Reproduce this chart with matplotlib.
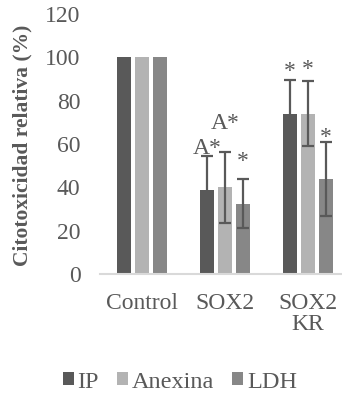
import matplotlib
matplotlib.use("Agg")
import matplotlib.pyplot as plt
import numpy as np

# Data
categories = ["Control", "SOX2", "SOX2\nKR"]
series = ["IP", "Anexina", "LDH"]
ip_vals = [100, 39, 74]
anexina_vals = [100, 40, 74]
ldh_vals = [100, 32.5, 44]
ip_err = [0, 15.5, 15.7]
anexina_err = [0, 16.3, 15.0]
ldh_err = [0, 11.4, 17.0]
ip_marks = ["", "A*", "*"]
anexina_marks = ["", "A*", "*"]
ldh_marks = ["", "*", "*"]
yticks = [0, 20, 40, 60, 80, 100, 120]

colors = ["#595959", "#b3b3b3", "#878787"]
err_color = "#595959"
text_color = "#595959"
plt.rcParams["font.family"] = ["Liberation Serif", "DejaVu Serif"]

fig = plt.figure(figsize=(3.42, 3.96), dpi=100)
ax = fig.add_axes([100 / 342, (396 - 274) / 396, 242 / 342, 260 / 396])

x = np.arange(len(categories))
width = 0.17
pitch = 0.217
values = [ip_vals, anexina_vals, ldh_vals]
errs = [ip_err, anexina_err, ldh_err]
marks = [ip_marks, anexina_marks, ldh_marks]
# extra lift of each label above its error bar (data units)
lifts = [[0, 1.0, 1.0], [0, 10.7, 3.0], [0, 5.6, -0.4]]

for i, (vals, err, col) in enumerate(zip(values, errs, colors)):
    pos = x + (i - 1) * pitch
    ax.bar(pos, vals, width=width, color=col, label=series[i], zorder=2)
    e = np.array(err)
    mask = e > 0
    ax.errorbar(pos[mask], np.array(vals)[mask], yerr=e[mask], fmt="none",
                ecolor=err_color, elinewidth=1.6, capsize=4.3, capthick=1.6, zorder=3)
    for j in range(len(categories)):
        if marks[i][j]:
            ax.text(pos[j], vals[j] + err[j] + lifts[i][j], marks[i][j],
                    ha="center", va="baseline", fontsize=17, color=text_color)

ax.set_xlim(-0.506, 2.41)
ax.set_ylim(0, 120)
ax.set_yticks(yticks)
ax.set_xticks(x)
ax.set_xticklabels(categories, fontsize=17, color=text_color, linespacing=1.0)
ax.tick_params(axis="y", length=0, pad=14, labelsize=17, labelcolor=text_color)
ax.tick_params(axis="x", length=0, pad=14)
for s in ["top", "right", "left"]:
    ax.spines[s].set_visible(False)
ax.spines["bottom"].set_color("#d9d9d9")
ax.spines["bottom"].set_linewidth(1.5)

fig.text(22 / 342, 1 - 145 / 396, "Citotoxicidad relativa (%)", rotation=90,
         ha="center", va="center", fontsize=15.5, fontweight="bold", color=text_color)

fig.legend(loc="center", bbox_to_anchor=(180 / 342, 1 - 382 / 396), ncol=3,
           frameon=False, fontsize=17.5, handlelength=0.45, handleheight=0.45,
           handletextpad=0.15, columnspacing=0.75, labelcolor=text_color,
           borderpad=0, borderaxespad=0)

fig.savefig("out.png", dpi=100)
